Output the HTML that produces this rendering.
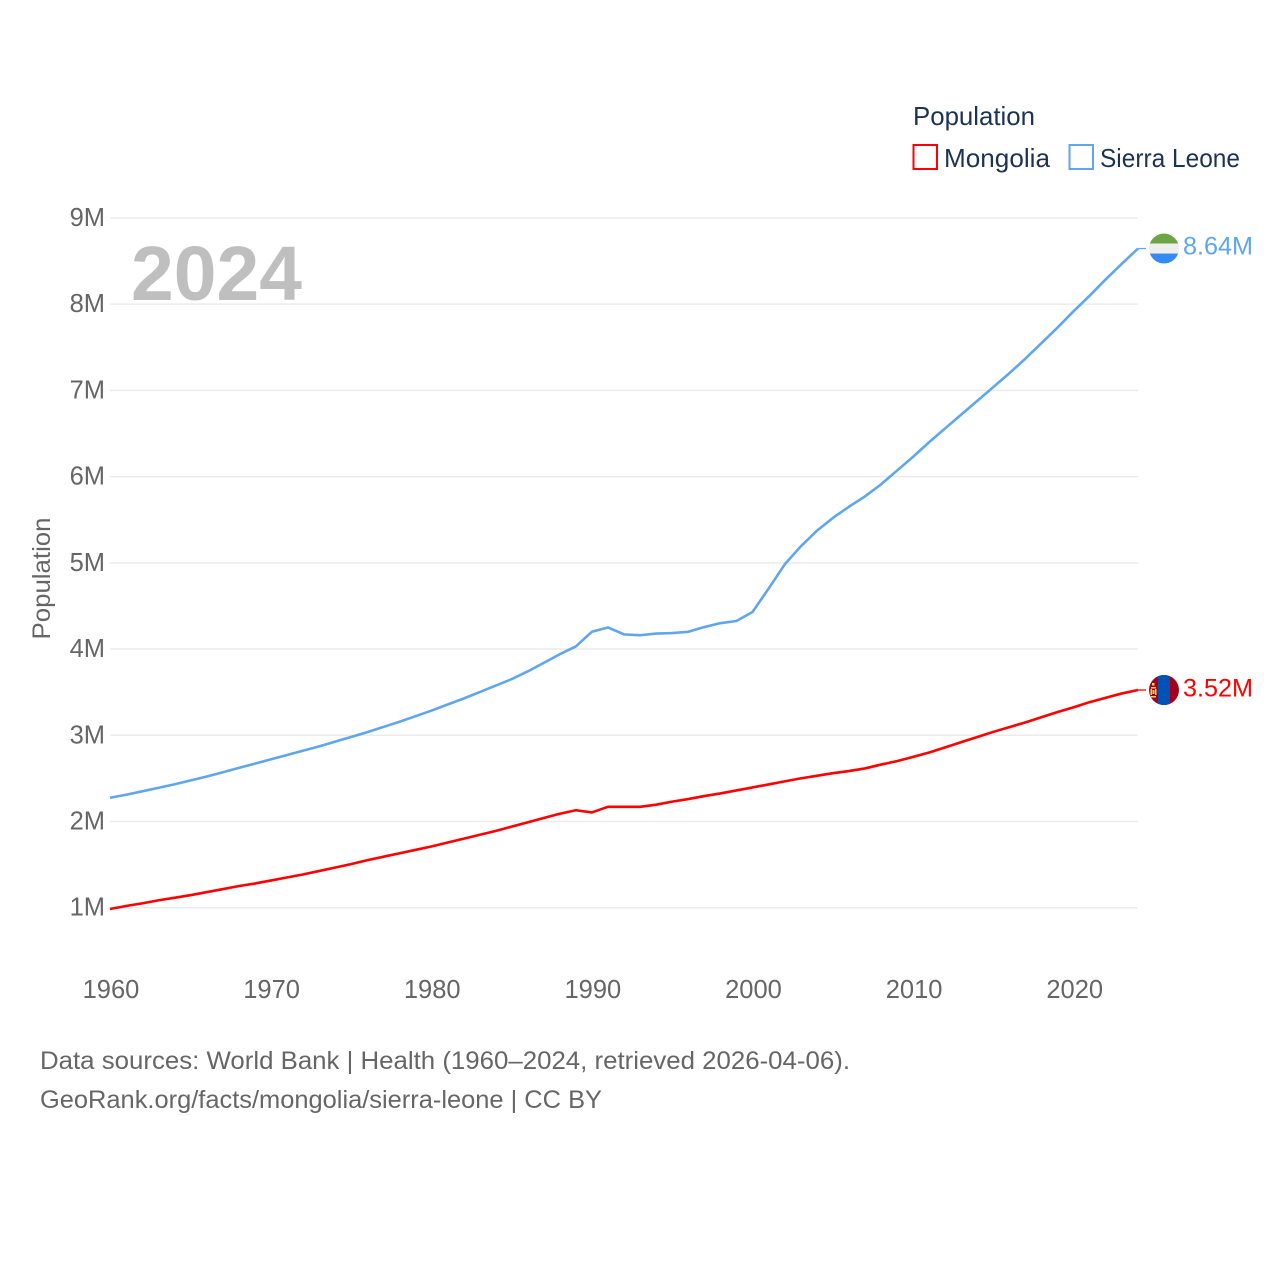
<!DOCTYPE html>
<html lang="en">
<head>
<meta charset="utf-8">
<title>Population: Mongolia and Sierra Leone</title>
<style>
html,body{margin:0;padding:0;background:#fff;}
svg{display:block;}
text{font-family:"Liberation Sans",sans-serif;}
</style>
</head>
<body>
<svg id="chart" xmlns="http://www.w3.org/2000/svg" width="1280" height="1280" viewBox="0 0 1280 1280">
  <defs>
    <clipPath id="flag-clip"><circle cx="0" cy="0" r="15"></circle></clipPath>
  </defs>
  <rect x="0" y="0" width="1280" height="1280" fill="#ffffff"></rect>
  <g id="grid"></g>
  <text x="131" y="300" font-size="77" font-weight="700" fill="#bfbfbf" textLength="171" lengthAdjust="spacingAndGlyphs">2024</text>
  <g id="y-ticks"></g>
  <g id="x-ticks"></g>
  <text transform="translate(50,578.5) rotate(-90)" text-anchor="middle" font-size="25" fill="#666666" textLength="122" lengthAdjust="spacingAndGlyphs">Population</text>
  <g id="series"></g>

  <g id="flag-sl">
    <g clip-path="url(#flag-clip)">
      <rect x="-15" y="-15" width="30" height="10" fill="#6da544"></rect>
      <rect x="-15" y="-5" width="30" height="10" fill="#eeeeee"></rect>
      <rect x="-15" y="5" width="30" height="10" fill="#338af3"></rect>
    </g>
  </g>
  <g id="flag-mn">
    <g clip-path="url(#flag-clip)">
      <rect x="-15" y="-15" width="30" height="30" fill="#a2001d"></rect>
      <rect x="-6" y="-15" width="12" height="30" fill="#0052b4"></rect>
      <rect x="-12" y="-7" width="2.5" height="2.5" fill="#ffda44"></rect>
      <rect x="-13" y="-3" width="5" height="1.5" fill="#ffda44"></rect>
      <rect x="-13.5" y="-1" width="1.5" height="6" fill="#ffda44"></rect>
      <rect x="-9" y="-1" width="1.5" height="6" fill="#ffda44"></rect>
      <rect x="-11.5" y="0" width="2" height="4" fill="#ffda44"></rect>
      <rect x="-13" y="6" width="5" height="1.5" fill="#ffda44"></rect>
    </g>
  </g>
  <text id="label-sl" x="1183" font-size="25" fill="#5fa6ee" textLength="70" lengthAdjust="spacingAndGlyphs"></text>
  <text id="label-mn" x="1183" font-size="25" fill="#ff0000" textLength="70" lengthAdjust="spacingAndGlyphs"></text>

  <g>
    <text x="913" y="125" font-size="26" fill="#1c3353" textLength="122" lengthAdjust="spacingAndGlyphs">Population</text>
    <g>
      <rect x="913.5" y="145" width="23.5" height="24" fill="#ffffff" stroke="#ff0000" stroke-width="2"></rect>
      <text x="944" y="167" font-size="26" fill="#1c3353" textLength="106" lengthAdjust="spacingAndGlyphs">Mongolia</text>
    </g>
    <g>
      <rect x="1069.5" y="145" width="23.5" height="24" fill="#ffffff" stroke="#5fa6ee" stroke-width="2"></rect>
      <text x="1100" y="167" font-size="26" fill="#1c3353" textLength="140" lengthAdjust="spacingAndGlyphs">Sierra Leone</text>
    </g>
  </g>

  <text x="40" y="1069" font-size="25" fill="#666666" textLength="810" lengthAdjust="spacingAndGlyphs">Data sources: World Bank | Health (1960–2024, retrieved 2026-04-06).</text>
  <text x="40" y="1108" font-size="25" fill="#666666" textLength="562" lengthAdjust="spacingAndGlyphs">GeoRank.org/facts/mongolia/sierra-leone | CC BY</text>
</svg>
<script>
const firstYear = 1960;
const lastYear = 2024;
const yTickValues = [1, 2, 3, 4, 5, 6, 7, 8, 9];
const yTickLabels = ["1M", "2M", "3M", "4M", "5M", "6M", "7M", "8M", "9M"];
const xTickYears = [1960, 1970, 1980, 1990, 2000, 2010, 2020];
const sierraLeoneValues = [
  2.275, 2.31, 2.35, 2.39, 2.43, 2.475, 2.52, 2.57, 2.62, 2.67,
  2.72, 2.77, 2.82, 2.87, 2.925, 2.98, 3.035, 3.095, 3.155, 3.22,
  3.285, 3.355, 3.425, 3.50, 3.575, 3.65, 3.74, 3.84, 3.94, 4.03,
  4.20, 4.25, 4.17, 4.16, 4.18, 4.185, 4.20, 4.255, 4.30, 4.325,
  4.43, 4.70, 4.98, 5.19, 5.37, 5.52, 5.65, 5.77, 5.91, 6.07,
  6.23, 6.40, 6.56, 6.72, 6.88, 7.04, 7.20, 7.37, 7.55, 7.73,
  7.92, 8.10, 8.29, 8.47, 8.645
];
const mongoliaValues = [
  0.985, 1.02, 1.05, 1.085, 1.115, 1.145, 1.18, 1.215, 1.25, 1.28,
  1.315, 1.35, 1.385, 1.425, 1.465, 1.505, 1.55, 1.59, 1.63, 1.67,
  1.71, 1.755, 1.80, 1.845, 1.89, 1.94, 1.99, 2.04, 2.09, 2.13,
  2.105, 2.17, 2.17, 2.17, 2.195, 2.23, 2.26, 2.295, 2.325, 2.36,
  2.395, 2.43, 2.465, 2.50, 2.53, 2.56, 2.585, 2.615, 2.66, 2.70,
  2.75, 2.80, 2.86, 2.92, 2.98, 3.04, 3.095, 3.15, 3.21, 3.27,
  3.325, 3.385, 3.435, 3.485, 3.525
];
const sierraLeoneEndLabel = "8.64M";
const mongoliaEndLabel = "3.52M";

const NS = "http://www.w3.org/2000/svg";
const plotLeft = 110, plotRight = 1138, yAtOne = 907.7, pxPerMillion = 86.22;

function xScale(year) {
  return plotLeft + (year - firstYear) * (plotRight - plotLeft) / (lastYear - firstYear);
}
function yScale(value) {
  return yAtOne - (value - 1) * pxPerMillion;
}
function make(tag, attrs, parent) {
  const el = document.createElementNS(NS, tag);
  Object.keys(attrs).forEach(function (k) { el.setAttribute(k, attrs[k]); });
  parent.appendChild(el);
  return el;
}

const gridGroup = document.getElementById("grid");
const yTickGroup = document.getElementById("y-ticks");
yTickValues.forEach(function (v, i) {
  const y = yScale(v);
  const line = make("line", { x1: plotLeft, x2: plotRight, y1: y, y2: y, stroke: "#ebebeb", "stroke-width": 1.5 }, gridGroup);
  
  
  const label = make("text", { x: 105, y: y + 8, "text-anchor": "end", "font-size": 25.5, fill: "#666666" }, yTickGroup);
  
  
  label.textContent = yTickLabels[i];
});

const xTickGroup = document.getElementById("x-ticks");
xTickYears.forEach(function (year) {
  const label = make("text", { x: xScale(year) + 1, y: 998, "text-anchor": "middle", "font-size": 25.5, fill: "#666666" }, xTickGroup);
  
  
  label.textContent = String(year);
});

function pathFor(values) {
  return values.map(function (v, i) {
    return (i === 0 ? "M" : "L") + xScale(firstYear + i).toFixed(2) + " " + yScale(v).toFixed(2);
  }).join(" ");
}

const seriesGroup = document.getElementById("series");
const mongoliaLine = make("path", { d: pathFor(mongoliaValues), fill: "none", stroke: "#ff0000", "stroke-width": 2.6, "stroke-linejoin": "round" }, seriesGroup);


const sierraLine = make("path", { d: pathFor(sierraLeoneValues), fill: "none", stroke: "#5fa6ee", "stroke-width": 2.6, "stroke-linejoin": "round" }, seriesGroup);



const slEndY = yScale(sierraLeoneValues[sierraLeoneValues.length - 1]);
const mnEndY = yScale(mongoliaValues[mongoliaValues.length - 1]);
const slConnector = make("line", { x1: plotRight, x2: 1146, y1: slEndY, y2: slEndY, stroke: "#5fa6ee", "stroke-width": 1.3 }, seriesGroup);


const mnConnector = make("line", { x1: plotRight, x2: 1146, y1: mnEndY, y2: mnEndY, stroke: "#ff0000", "stroke-width": 1.3 }, seriesGroup);



document.getElementById("flag-sl").setAttribute("transform", "translate(1164," + slEndY + ")");
document.getElementById("flag-mn").setAttribute("transform", "translate(1164," + mnEndY + ")");
const slLabel = document.getElementById("label-sl");
slLabel.setAttribute("y", slEndY + 6);
slLabel.textContent = sierraLeoneEndLabel;
const mnLabel = document.getElementById("label-mn");
mnLabel.setAttribute("y", mnEndY + 6.5);
mnLabel.textContent = mongoliaEndLabel;
</script>
</body>
</html>
